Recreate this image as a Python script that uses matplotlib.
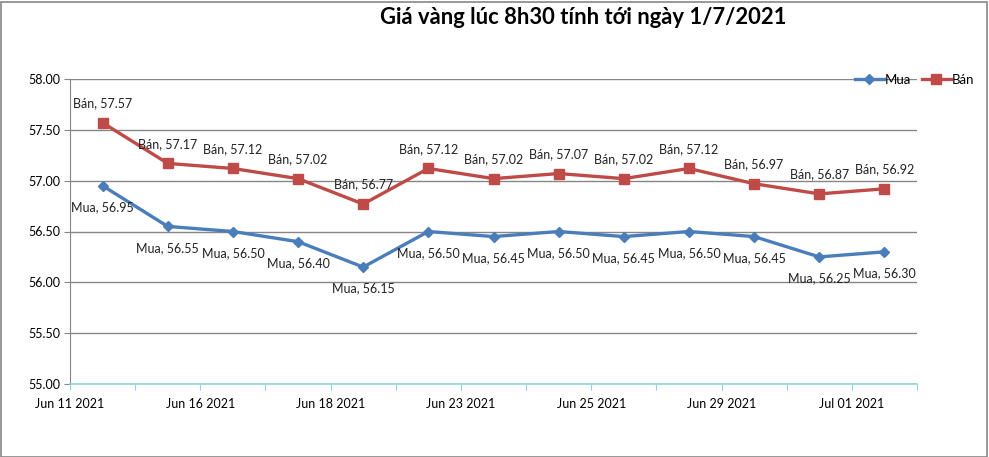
import matplotlib
matplotlib.use("Agg")
import matplotlib.pyplot as plt
from matplotlib.patches import Rectangle

plt.rcParams['font.family'] = ['Lato', 'DejaVu Sans']

title = "Giá vàng lúc 8h30 tính tới ngày 1/7/2021"
mua = [56.95, 56.55, 56.50, 56.40, 56.15, 56.50, 56.45, 56.50, 56.45, 56.50, 56.45, 56.25, 56.30]
ban = [57.57, 57.17, 57.12, 57.02, 56.77, 57.12, 57.02, 57.07, 57.02, 57.12, 56.97, 56.87, 56.92]
date_labels = ["Jun 11 2021", "Jun 16 2021", "Jun 18 2021", "Jun 23 2021",
               "Jun 25 2021", "Jun 29 2021", "Jul 01 2021"]
yticks = [55.0, 55.5, 56.0, 56.5, 57.0, 57.5, 58.0]

W, H = 989, 457
fig = plt.figure(figsize=(W / 100, H / 100), dpi=100)
ax = fig.add_axes([70 / W, 1 - 384 / H, (917 - 70) / W, (384 - 79) / H])

x = list(range(len(mua)))
blue = "#4a7ebb"
red = "#be4b48"
ax.plot(x, mua, color=blue, lw=2.4, marker="D", ms=5.5, label="Mua", zorder=3)
ax.plot(x, ban, color=red, lw=2.4, marker="s", ms=7, label="Bán", zorder=3)

for xi, v in zip(x, mua):
    ax.annotate(f"Mua, {v:.2f}", (xi, v), xytext=(0, -15.5), textcoords="offset points",
                ha="center", va="center", fontsize=9, color="#222222")
for xi, v in zip(x, ban):
    ax.annotate(f"Bán, {v:.2f}", (xi, v), xytext=(0, 14), textcoords="offset points",
                ha="center", va="center", fontsize=9, color="#222222")

ax.set_xlim(-0.5, len(mua) - 0.5)
ax.set_ylim(55.0, 58.0)
ax.set_yticks(yticks)
ax.set_yticklabels([f"{v:.2f}" for v in yticks], fontsize=9)
ticks = [i - 0.5 for i in range(len(mua) + 1)]
ax.set_xticks(ticks)
labels = []
for i in range(len(ticks)):
    labels.append(date_labels[i // 2] if i % 2 == 0 and i // 2 < len(date_labels) else "")
ax.set_xticklabels(labels, fontsize=9)
ax.grid(axis="y", color="#868686", lw=1)
ax.set_axisbelow(True)
for s in ["top", "right"]:
    ax.spines[s].set_visible(False)
ax.spines["left"].set_color("#868686")
ax.spines["bottom"].set_color("#8fd3db")
ax.spines["bottom"].set_linewidth(1.2)
ax.tick_params(axis="y", length=4, color="#868686", pad=3)
ax.tick_params(axis="x", length=4, color="#8fd3db", pad=6)

fig.text(583 / W, 1 - 18 / H, title, ha="center", va="center", fontsize=15.8,
         fontweight="bold")
fig.legend(loc="center right", bbox_to_anchor=(980 / W, 1 - 80 / H), ncol=2,
           frameon=False, fontsize=9.5, handlelength=2.2, columnspacing=0.8,
           handletextpad=0.1, borderaxespad=0)

fig.patches.append(Rectangle((0.5 / W, 0.5 / H), 1 - 2.5 / W, 1 - 2.5 / H,
                             transform=fig.transFigure, fill=False,
                             edgecolor="#868686", lw=1.2))
fig.savefig("out.png", dpi=100)
